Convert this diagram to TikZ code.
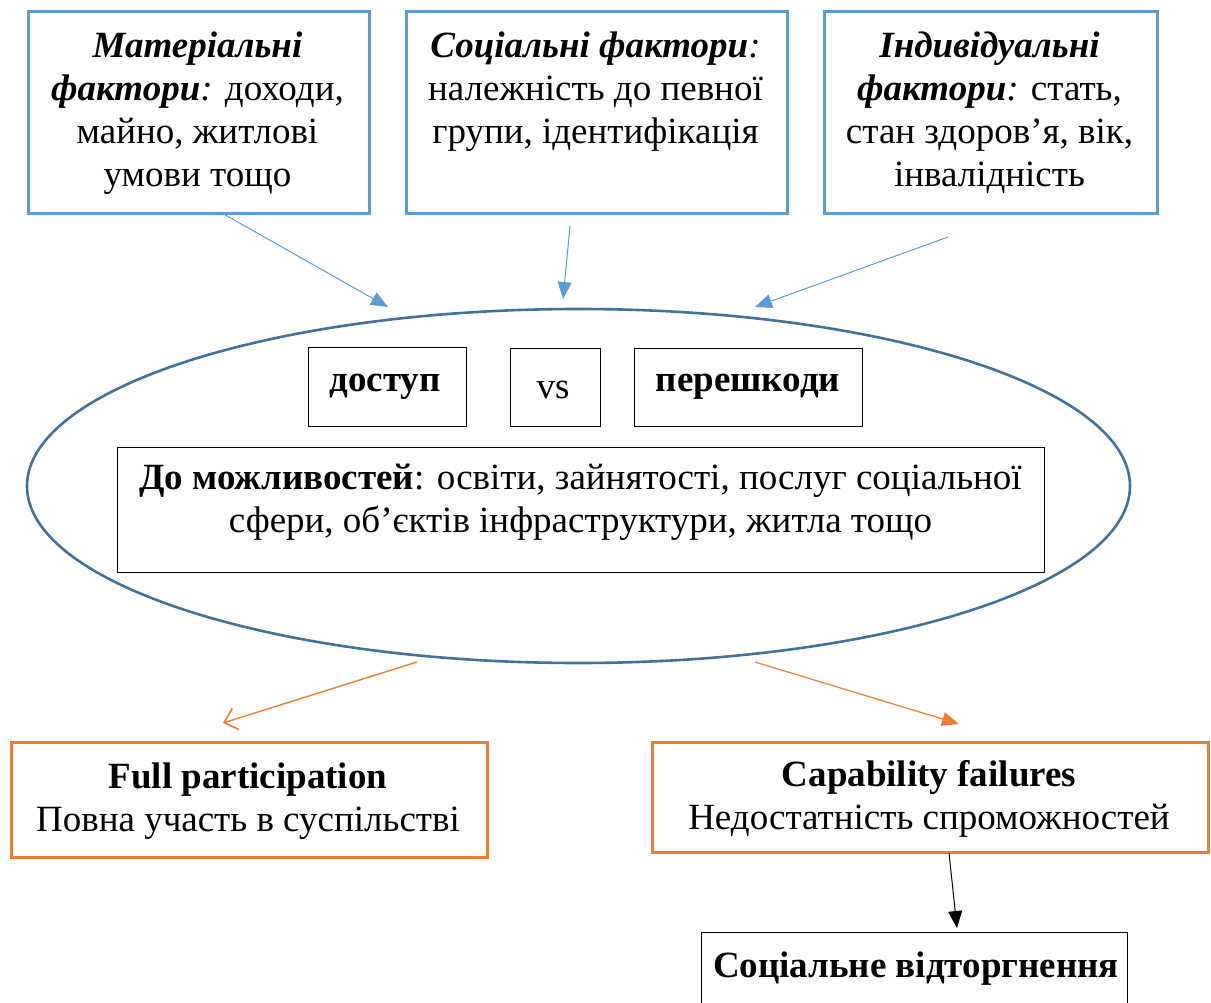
\documentclass[tikz,border=0pt]{standalone}
\usepackage{fontspec}
\setmainfont{Liberation Serif}
\usetikzlibrary{shapes.geometric,arrows.meta}
\definecolor{bblue}{HTML}{5B9BD5}
\definecolor{eblue}{HTML}{41719C}
\definecolor{orng}{HTML}{ED7D31}
\tikzset{
  topbox/.style={draw=bblue, line width=2.6pt, anchor=north west, inner sep=0pt},
  obox/.style={draw=orng, line width=2.6pt, anchor=north west, inner sep=0pt},
  kbox/.style={draw=black, line width=1.2pt, anchor=north west, inner sep=0pt},
  txt/.style={anchor=north, inner sep=0pt, align=center, font=\fontsize{37}{43}\selectfont},
  barrow/.style={draw=bblue, line width=1pt, -{Triangle[length=17pt,width=14pt]}},
  oarrowf/.style={draw=orng, line width=1.2pt, -{Triangle[length=17pt,width=14pt]}},
  oarrowo/.style={draw=orng, line width=1.4pt, -{Straight Barb[length=12pt,width=22pt,line width=1.6pt]}},
  karrow/.style={draw=black, line width=1pt, -{Triangle[length=17pt,width=14pt]}},
}
\begin{document}
\begin{tikzpicture}[x=1pt,y=-1pt]
\useasboundingbox (0,0) rectangle (1211,1003);
% top boxes
\node[topbox, minimum width=341pt, minimum height=202pt] (b1) at (27,10) {};
\node[topbox, minimum width=381pt, minimum height=202pt] (b2) at (405,10) {};
\node[topbox, minimum width=333pt, minimum height=202pt] (b3) at (823,10) {};
\node[txt] (t1) at (197.5,27) {\strut\textbf{\textit{Матеріальні}}\\\strut\textbf{\textit{фактори}}\textit{:} доходи,\\\strut майно, житлові\\\strut умови тощо};
\node[txt] (t2) at (595.5,27) {\strut\textbf{\textit{Соціальні фактори}}\textit{:}\\\strut належність до певної\\\strut групи, ідентифікація};
\node[txt] (t3) at (989.5,27) {\strut\textbf{\textit{Індивідуальні}}\\\strut\textbf{\textit{фактори}}\textit{:} стать,\\\strut стан здоров’я, вік,\\\strut інвалідність};
% ellipse
\node[ellipse, draw=eblue, line width=2.6pt, minimum width=1103pt, minimum height=354pt, inner sep=0pt] (ell) at (578.5,486) {};
\node[kbox, minimum width=158pt, minimum height=79pt] (dbox) at (308,347) {};
\node[kbox, minimum width=90pt, minimum height=78pt] (vbox) at (510,348) {};
\node[kbox, minimum width=228pt, minimum height=78pt] (pbox) at (634,348) {};
\node[kbox, minimum width=927pt, minimum height=125pt] (mbox) at (117,447) {};
\node[txt] (dt) at (385,361) {\strut\textbf{доступ}};
\node[txt] (vt) at (553,368) {\strut vs};
\node[txt] (pt) at (748,361) {\strut\textbf{перешкоди}};
\node[txt] (mt) at (580.5,459) {\strut\textbf{До можливостей}: освіти, зайнятості, послуг соціальної\\\strut сфери, об’єктів інфраструктури, житла тощо};
% bottom boxes
\node[obox, minimum width=476pt, minimum height=115pt] (fbox) at (10,741) {};
\node[obox, minimum width=556pt, minimum height=110pt] (cbox) at (651,741) {};
\node[kbox, minimum width=426pt, minimum height=90pt] (sbox) at (701,932) {};
\node[txt] (ft) at (248,758) {\strut\textbf{Full participation}\\\strut Повна участь в суспільстві};
\node[txt] (ct) at (929,756) {\strut\textbf{Capability failures}\\\strut Недостатність спроможностей};
\node[txt] (st) at (916,947) {\strut\textbf{Соціальне відторгнення}};
% arrow end points
\coordinate (a1s) at (220,212);
\coordinate (a1e) at (388,307);
\coordinate (a2s) at (570,226);
\coordinate (a2e) at (563,299);
\coordinate (a3s) at (948,237);
\coordinate (a3e) at (755,307);
\coordinate (o1s) at (417,662);
\coordinate (o1e) at (223,723);
\coordinate (o2s) at (755,662);
\coordinate (o2e) at (959,724);
\coordinate (k1s) at (949,853);
\coordinate (k1e) at (957,928);
\draw[barrow] (a1s) -- (a1e);
\draw[barrow] (a2s) -- (a2e);
\draw[barrow] (a3s) -- (a3e);
\draw[oarrowo] (o1s) -- (o1e);
\draw[oarrowf] (o2s) -- (o2e);
\draw[karrow] (k1s) -- (k1e);
\end{tikzpicture}
\end{document}
